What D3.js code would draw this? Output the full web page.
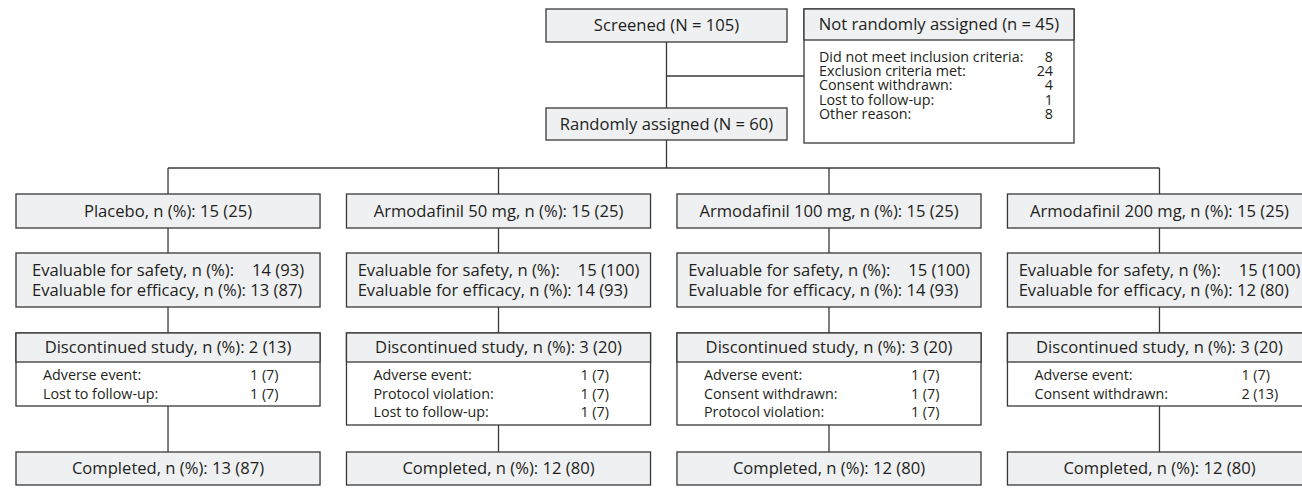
<!DOCTYPE html>
<html>
<head>
<meta charset="utf-8">
<script src="https://cdn.jsdelivr.net/npm/d3@7"></script>
<style>
  body { margin: 0; background: #fff; }
  text { font-family: "Open Sans", sans-serif; fill: #231f20; }
</style>
</head>
<body>
<svg id="chart"></svg>
<script>
// --- data ---
const screenedN = 105
const randomizedN = 60
const notAssignedN = 45
const notAssignedReasons = ['Did not meet inclusion criteria:', 'Exclusion criteria met:', 'Consent withdrawn:', 'Lost to follow-up:', 'Other reason:']
const notAssignedCounts = [8, 24, 4, 1, 8]

const arms = ['Placebo', 'Armodafinil 50 mg', 'Armodafinil 100 mg', 'Armodafinil 200 mg']
const armN = [15, 15, 15, 15]
const armPct = [25, 25, 25, 25]
const safetyN = [14, 15, 15, 15]
const safetyPct = [93, 100, 100, 100]
const efficacyN = [13, 14, 14, 12]
const efficacyPct = [87, 93, 93, 80]
const discN = [2, 3, 3, 3]
const discPct = [13, 20, 20, 20]
const discReasons = [
    ['Adverse event:', 'Lost to follow-up:'],
    ['Adverse event:', 'Protocol violation:', 'Lost to follow-up:'],
    ['Adverse event:', 'Consent withdrawn:', 'Protocol violation:'],
    ['Adverse event:', 'Consent withdrawn:']
]
const discReasonN = [[1, 1], [1, 1, 1], [1, 1, 1], [1, 2]]
const discReasonPct = [[7, 7], [7, 7, 7], [7, 7, 7], [7, 13]]
const completedN = [13, 12, 12, 12]
const completedPct = [87, 80, 80, 80]

const width = 1302, height = 493
const stroke = '#383838', grey = '#eff0f2'
const bigFont = 16.6, smallFont = 14.3

const svg = d3.select('#chart').attr('width', width).attr('height', height)

// arm columns
const x = d3.scaleBand().domain(arms).range([16, 1311.5]).paddingInner(0.08)
const cx = d => x(d) + x.bandwidth() / 2

function box(g, bx, by, w, h, fill) {
    g.append('rect')
        .attr('x', bx).attr('y', by).attr('width', w).attr('height', h)
        .attr('fill', fill).attr('stroke', stroke).attr('stroke-width', 1.3)
}
function line(x1, y1, x2, y2) {
    svg.append('line')
        .attr('x1', x1).attr('y1', y1).attr('x2', x2).attr('y2', y2)
        .attr('stroke', stroke).attr('stroke-width', 1.3)
}
function label(g, tx, ty, str, size, anchor) {
    return g.append('text')
        .attr('x', tx).attr('y', ty).attr('dy', '0.35em')
        .attr('text-anchor', anchor || 'middle')
        .style('font-size', size + 'px')
        .text(str)
}

// --- top part ---
const topX = 546, topW = 241, trunkX = topX + topW / 2
const branchY = 168
line(trunkX, 42, trunkX, 108)
line(trunkX, 76, 804, 76)
line(trunkX, 140, trunkX, branchY)
line(cx(arms[0]), branchY, cx(arms[3]), branchY)

const topG = svg.append('g')
box(topG, topX, 9, topW, 33, grey)
label(topG, trunkX, 25.5, `Screened (N = ${screenedN})`, bigFont)
box(topG, topX, 108, topW, 32, grey)
label(topG, trunkX, 124, `Randomly assigned (N = ${randomizedN})`, bigFont)

// not randomly assigned box
const naX = 804, naW = 270
box(topG, naX, 9, naW, 134, '#fff')
box(topG, naX, 9, naW, 31, grey)
label(topG, naX + naW / 2, 24.5, `Not randomly assigned (n = ${notAssignedN})`, bigFont)
notAssignedReasons.forEach((r, i) => {
    label(topG, naX + 15, 57 + i * 14.2, r, smallFont, 'start')
    label(topG, naX + naW - 21, 57 + i * 14.2, notAssignedCounts[i], smallFont, 'end')
})

// --- arm columns ---
const armY = 194, evalY = 253, discY = 333, compY = 452
const discHead = 29, rowH = 18.5

arms.forEach((a, i) => {
    const bx = x(a), w = x.bandwidth(), mid = cx(a)
    const nRows = discReasons[i].length
    const discBottom = discY + discHead + 6 + nRows * 19

    line(mid, branchY, mid, armY)
    line(mid, armY + 34, mid, evalY)
    line(mid, evalY + 54, mid, discY)
    line(mid, discBottom, mid, compY)

    const g = svg.append('g')

    box(g, bx, armY, w, 34, grey)
    label(g, mid, armY + 17, `${a}, n (%): ${armN[i]} (${armPct[i]})`, bigFont)

    // evaluable block: two lines sharing a left edge, centred as a block
    box(g, bx, evalY, w, 54, grey)
    const l1 = label(g, 0, evalY + 17, 'Evaluable for safety, n (%):', bigFont, 'start')
    const v1 = label(g, 0, evalY + 17, `${safetyN[i]} (${safetyPct[i]})`, bigFont, 'start')
    const l2 = label(g, 0, evalY + 37, `Evaluable for efficacy, n (%): ${efficacyN[i]} (${efficacyPct[i]})`, bigFont, 'start')
    const gap = 18
    const w1 = l1.node().getComputedTextLength() + gap + v1.node().getComputedTextLength()
    const w2 = l2.node().getComputedTextLength()
    const left = mid - Math.max(w1, w2) / 2
    l1.attr('x', left)
    v1.attr('x', left + l1.node().getComputedTextLength() + gap)
    l2.attr('x', left)

    // discontinued
    box(g, bx, discY, w, discBottom - discY, '#fff')
    box(g, bx, discY, w, discHead, grey)
    label(g, mid, discY + discHead / 2, `Discontinued study, n (%): ${discN[i]} (${discPct[i]})`, bigFont)
    discReasons[i].forEach((r, j) => {
        const ry = discY + discHead + 13 + j * rowH
        label(g, bx + 27, ry, r, smallFont, 'start')
        label(g, bx + 234, ry, `${discReasonN[i][j]} (${discReasonPct[i][j]})`, smallFont, 'start')
    })

    box(g, bx, compY, w, 33, grey)
    label(g, mid, compY + 16.5, `Completed, n (%): ${completedN[i]} (${completedPct[i]})`, bigFont)
})
</script>
</body>
</html>
